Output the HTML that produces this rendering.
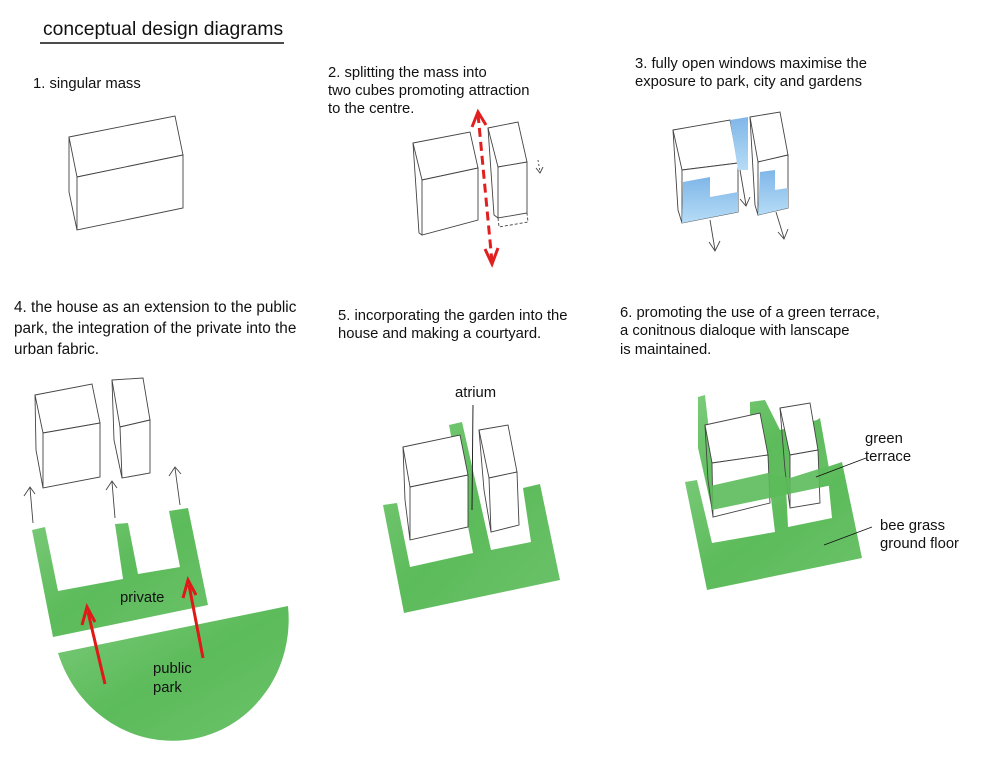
<!DOCTYPE html>
<html><head><meta charset="utf-8"><style>
html,body{margin:0;padding:0;background:#fff}
svg{display:block}
text{font-family:"Liberation Sans","DejaVu Sans",sans-serif;fill:#111}
</style></head><body>
<svg width="1000" height="759" viewBox="0 0 1000 759" xmlns="http://www.w3.org/2000/svg">
<defs>
<linearGradient id="g" x1="0" y1="0" x2="1" y2="1">
<stop offset="0" stop-color="#7ccb7a"/><stop offset="0.5" stop-color="#5cbb5a"/><stop offset="1" stop-color="#6cc26a"/></linearGradient>
<linearGradient id="b" x1="0" y1="0" x2="0" y2="1">
<stop offset="0" stop-color="#7fb6e8"/><stop offset="1" stop-color="#b6dcf6"/></linearGradient>
</defs>
<g fill="#fff" stroke="#444" stroke-width="0.9">
<!-- title -->
<text x="43" y="35" font-size="19.3" stroke="none">conceptual design diagrams</text>
<line x1="40" y1="43" x2="284" y2="43" stroke="#111" stroke-width="1.5"/>
<g stroke="none" font-size="14.8">
<text x="33" y="88">1. singular mass</text>
<text x="328" y="77">2. splitting the mass into</text>
<text x="328" y="95">two cubes promoting attraction</text>
<text x="328" y="113">to the centre.</text>
<text x="635" y="68">3. fully open windows maximise the</text>
<text x="635" y="86">exposure to park, city and gardens</text>
<text x="338" y="320">5. incorporating the garden into the</text>
<text x="338" y="338">house and making a courtyard.</text>
<text x="620" y="317">6. promoting the use of a green terrace,</text>
<text x="620" y="335">a conitnous dialoque with lanscape</text>
<text x="620" y="354">is maintained.</text>
</g>
<g stroke="none" font-size="15.3">
<text x="14" y="312">4. the house as an extension to the public</text>
<text x="14" y="333">park, the integration of the private into the</text>
<text x="14" y="354">urban fabric.</text>
</g>

<!-- 1 -->
<polygon points="69,137 175,116 183,155 77,177"/>
<polygon points="77,177 183,155 183,208 77,230"/>
<polyline points="69,137 69,192 77,230" fill="none"/>

<!-- 2 -->
<polygon points="413,143 470,132 478,168 422,180"/>
<polygon points="422,180 478,168 478,220 422,235"/>
<polyline points="413,143 419,233 422,235" fill="none"/>
<polygon points="488,128 518,122 527,162 498,167"/>
<polygon points="498,167 527,162 527,213 498,218"/>
<polyline points="488,128 494,215 498,218" fill="none"/>
<polyline points="498,218 499,227 528,222 527,213" fill="none" stroke-dasharray="3,2"/>
<line x1="538" y1="160" x2="540" y2="172" stroke-dasharray="2,2"/>
<polyline points="536,168 540,173 543,167" fill="none"/>
<line x1="478" y1="114" x2="492" y2="262" stroke="#e02020" stroke-width="3" stroke-dasharray="9,5"/>
<polyline points="472,127 478,112 486,125" fill="none" stroke="#e02020" stroke-width="3"/>
<polyline points="485,249 492,264 498,248" fill="none" stroke="#e02020" stroke-width="3"/>

<!-- 3 -->
<polygon points="673,130 730,120 738,163 682,170"/>
<polygon points="682,170 738,163 738,212 682,223"/>
<polyline points="673,130 678,210 682,223" fill="none"/>
<polygon points="683,182 710,177 710,197 738,192 738,212 682,223" fill="url(#b)" stroke="none"/>
<polygon points="730,120 748,117 748,170 738,170" fill="url(#b)" stroke="none"/>
<polygon points="750,117 780,112 788,155 758,162"/>
<polygon points="758,162 788,155 788,208 758,215"/>
<polyline points="750,117 755,205 758,215" fill="none"/>
<polygon points="760,172 775,170 775,190 788,188 788,208 758,215" fill="url(#b)" stroke="none"/>
<line x1="710" y1="220" x2="715" y2="250"/><polyline points="709,242 715,251 720,241" fill="none"/>
<line x1="776" y1="212" x2="784" y2="238"/><polyline points="778,232 784,239 788,229" fill="none"/>
<line x1="740" y1="170" x2="746" y2="205"/><polyline points="740,199 746,206 750,197" fill="none"/>

<!-- 4 -->
<polygon points="35,395 92,384 100,423 43,433"/>
<polygon points="43,433 100,423 100,477 43,488"/>
<polyline points="35,395 36,450 43,488" fill="none"/>
<polygon points="112,380 143,378 150,420 120,427"/>
<polygon points="120,427 150,420 150,473 122,478"/>
<polyline points="112,380 114,440 122,478" fill="none"/>
<line x1="33" y1="523" x2="30" y2="488"/><polyline points="24,496 30,487 35,494" fill="none"/>
<line x1="115" y1="518" x2="112" y2="482"/><polyline points="106,490 112,481 117,488" fill="none"/>
<line x1="180" y1="505" x2="175" y2="468"/><polyline points="169,476 175,467 181,474" fill="none"/>
<path d="M32,530 L45,527 L58,591 L123,579 L115,524 L128,523 L138,574 L180,567 L169,511 L188,508 L208,605 L53,637 Z" fill="url(#g)" stroke="none"/>
<path d="M58,653 L288,606 A118 124 -11 0 1 58,653 Z" fill="url(#g)" stroke="none"/>
<line x1="105" y1="684" x2="88" y2="612" stroke="#e01818" stroke-width="3"/>
<polyline points="82,625 87,607 95,622" fill="none" stroke="#e01818" stroke-width="3"/>
<line x1="203" y1="658" x2="189" y2="585" stroke="#e01818" stroke-width="3"/>
<polyline points="183,598 188,580 196,595" fill="none" stroke="#e01818" stroke-width="3"/>
<g stroke="none" font-size="14.8"><text x="120" y="602">private</text><text x="153" y="673">public</text><text x="153" y="692">park</text></g>

<!-- 5 -->
<path d="M383,505 L397,503 L410,567 L473,553 L449,425 L462,422 L491,550 L531,542 L523,488 L540,484 L560,580 L404,613 Z" fill="url(#g)" stroke="none"/>
<polygon points="403,447 460,435 468,475 410,487"/>
<polygon points="410,487 468,475 468,527 410,540"/>
<polyline points="403,447 405,500 410,540" fill="none"/>
<polygon points="479,430 508,425 517,472 489,478"/>
<polygon points="489,478 517,472 519,525 491,532"/>
<polyline points="479,430 484,490 491,532" fill="none"/>
<line x1="473" y1="405" x2="472" y2="510" stroke="#111"/>
<text x="455" y="397" font-size="14.8" stroke="none">atrium</text>

<!-- 6 -->
<path d="M685,482 L697,480 L712,543 L775,532 L770,490 L786,487 L788,527 L832,518 L827,467 L842,462 L862,558 L707,590 Z" fill="url(#g)" stroke="none"/>
<path d="M698,397 L705,395 L710,440 L750,430 L750,402 L765,400 L780,430 L817,420 L820,418 L832,485 L712,510 L698,448 Z" fill="url(#g)" stroke="none"/>
<polygon points="705,425 760,413 768,455 712,463"/>
<polygon points="712,463 768,455 770,503 713,517"/>
<polyline points="705,425 708,480 713,517" fill="none"/>
<polygon points="780,408 810,403 818,450 790,455"/>
<polygon points="790,455 818,450 820,503 790,508"/>
<polyline points="780,408 785,470 790,508" fill="none"/>
<path d="M710,486 L768,473 L790,478 L828,466 L832,485 L712,510 Z" fill="#5cbb5a" stroke="none" opacity="0.9"/>
<line x1="816" y1="477" x2="866" y2="458" stroke="#111"/>
<line x1="824" y1="545" x2="872" y2="527" stroke="#111"/>
<g stroke="none" font-size="14.8"><text x="865" y="443">green</text><text x="865" y="461">terrace</text>
<text x="880" y="530">bee grass</text><text x="880" y="548">ground floor</text></g>
</g>
</svg>
</body></html>
